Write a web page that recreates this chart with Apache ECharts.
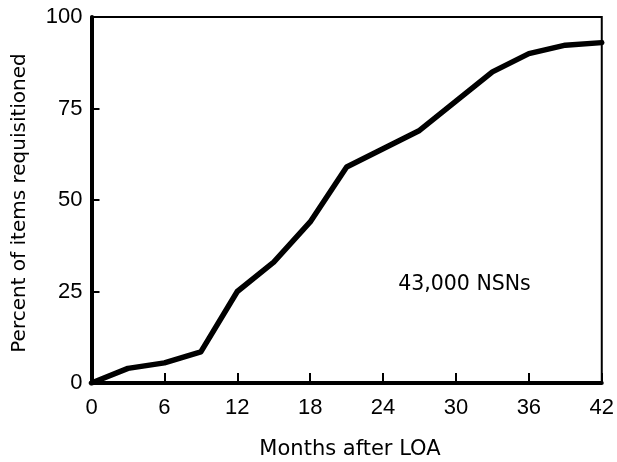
<!DOCTYPE html>
<html>
<head>
<meta charset="utf-8">
<script src="https://cdn.jsdelivr.net/npm/echarts@6/dist/echarts.min.js"></script>
<style>html,body{margin:0;padding:0;background:#fff}#c{width:617px;height:462px}</style>
</head>
<body>
<div id="c"></div>
<script>
var months = [0, 3, 6, 9, 12, 15, 18, 21, 24, 27, 30, 33, 36, 39, 42];
var percentRequisitioned = [0, 4, 5.5, 8.5, 25, 33, 44, 59, 64, 69, 77, 85, 90, 92.3, 93];
var xTicks = [0, 6, 12, 18, 24, 30, 36, 42];
var yTicks = [0, 25, 50, 75, 100];
var xTitle = 'Months after LOA';
var yTitle = 'Percent of items requisitioned';
var noteText = '43,000 NSNs';
var notePos = [30.7, 26.8];

var chart = echarts.init(document.getElementById('c'), null, {renderer: 'canvas'});
var tickFont = {color: '#000', fontFamily: 'Liberation Sans', fontSize: 22};
chart.setOption({
  animation: false,
  backgroundColor: '#fff',
  grid: {left: 91.5, right: 12, top: 17, bottom: 79, show: true, borderColor: '#000', borderWidth: 2, backgroundColor: 'transparent'},
  xAxis: {
    type: 'value', min: 0, max: 42, interval: 6,
    axisLine: {show: true, onZero: false, lineStyle: {color: '#000', width: 4}},
    axisTick: {show: true, inside: true, length: 10, lineStyle: {color: '#000', width: 2}},
    axisLabel: Object.assign({margin: 14, formatter: function(v){return xTicks.indexOf(v) >= 0 ? String(v) : '';}}, tickFont),
    splitLine: {show: false}
  },
  yAxis: {
    type: 'value', min: 0, max: 100, interval: 25,
    axisLine: {show: true, onZero: false, lineStyle: {color: '#000', width: 4}},
    axisTick: {show: true, inside: true, length: 8, lineStyle: {color: '#000', width: 2}},
    axisLabel: Object.assign({margin: 9, formatter: function(v){return yTicks.indexOf(v) >= 0 ? String(v) : '';}}, tickFont),
    splitLine: {show: false}
  },
  series: [{
    type: 'line',
    data: months.map(function(m, i){ return [m, percentRequisitioned[i]]; }),
    showSymbol: false,
    lineStyle: {color: '#000', width: 5.5, join: 'round', cap: 'round'},
    markPoint: {
      symbol: 'circle', symbolSize: 0,
      data: [{coord: notePos, value: noteText}],
      label: {show: true, position: 'inside', formatter: noteText, color: '#000', fontFamily: 'DejaVu Sans', fontSize: 20.5}
    }
  }],
  graphic: [
    {type: 'text', x: 350, y: 450, style: {text: xTitle, fill: '#000', font: '21px "DejaVu Sans"', textAlign: 'center', textVerticalAlign: 'middle'}},
    {type: 'text', x: 20, y: 203, rotation: Math.PI / 2, style: {text: yTitle, fill: '#000', font: '20px "DejaVu Sans"', textAlign: 'center', textVerticalAlign: 'middle'}}
  ]
});
</script>
</body>
</html>
